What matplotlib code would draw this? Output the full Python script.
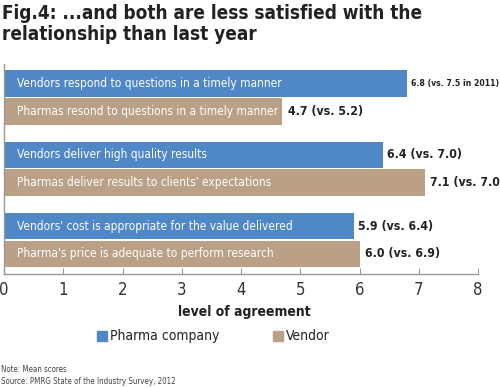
import matplotlib
matplotlib.use('Agg')
import matplotlib.pyplot as plt
from matplotlib.patches import Rectangle

# Data
groups = [0, 1, 2]
pharma_labels = [
    'Vendors respond to questions in a timely manner',
    'Vendors deliver high quality results',
    "Vendors' cost is appropriate for the value delivered",
]
pharma_values = [6.8, 6.4, 5.9]
pharma_notes = ['6.8 (vs. 7.5 in 2011)', '6.4 (vs. 7.0)', '5.9 (vs. 6.4)']

vendor_labels = [
    'Pharmas resond to questions in a timely manner',
    "Pharmas deliver results to clients' expectations",
    "Pharma's price is adequate to perform research",
]
vendor_values = [4.7, 7.1, 6.0]
vendor_notes = ['4.7 (vs. 5.2)', '7.1 (vs. 7.0)', '6.0 (vs. 6.9)']

xticks = [0, 1, 2, 3, 4, 5, 6, 7, 8]

blue = '#4F87C7'
tan = '#B9A086'
plt.rcParams['font.family'] = ['DejaVu Sans']
plt.rcParams['font.stretch'] = 'condensed'

W, H = 500, 388
fig = plt.figure(figsize=(W / 100, H / 100), dpi=100)

# axes placed in pixel coordinates
ax_l, ax_r, ax_t, ax_b = 4, 478, 64, 274
ax = fig.add_axes([ax_l / W, 1 - ax_b / H, (ax_r - ax_l) / W, (ax_b - ax_t) / H])

bh = 0.37
off = 0.195
ax.barh([g - off for g in groups], pharma_values, height=bh, color=blue)
ax.barh([g + off for g in groups], vendor_values, height=bh, color=tan)

for i, g in enumerate(groups):
    ax.text(0.22, g - off, pharma_labels[i], color='white', fontsize=8.6,
            va='center', ha='left')
    ax.text(0.22, g + off, vendor_labels[i], color='white', fontsize=8.6,
            va='center', ha='left')
    size = 6.2 if i == 0 else 8.8
    ax.text(pharma_values[i] + 0.07, g - off, pharma_notes[i], color='#222222',
            fontsize=size, fontweight='bold', va='center', ha='left')
    ax.text(vendor_values[i] + 0.09, g + off, vendor_notes[i], color='#222222',
            fontsize=8.8, fontweight='bold', va='center', ha='left')

ax.set_xlim(0, 8)
ax.set_ylim(2.476, -0.469)
ax.set_xticks(xticks)
ax.set_yticks([])
ax.tick_params(axis='x', direction='in', length=4, color='#999999',
               labelsize=12, labelcolor='#333333', pad=5)
for s in ['top', 'right']:
    ax.spines[s].set_visible(False)
for s in ['left', 'bottom']:
    ax.spines[s].set_color('#999999')
    ax.spines[s].set_linewidth(1)
ax.patch.set_visible(False)

# title
fig.text(2 / W, 1 - 4 / H, 'Fig.4: ...and both are less satisfied with the\nrelationship than last year',
         fontsize=13.6, fontweight='bold', color='#222222', va='top', ha='left',
         linespacing=1.15)

# x label
fig.text(244 / W, 1 - 312 / H, 'level of agreement', fontsize=10, fontweight='bold',
         color='#222222', ha='center', va='center')

# legend
for x0, c, lab in [(97, blue, 'Pharma company'), (273, tan, 'Vendor')]:
    fig.patches.append(Rectangle((x0 / W, 1 - 341 / H), 10 / W, 10 / H,
                                 transform=fig.transFigure, color=c))
    fig.text((x0 + 13) / W, 1 - 336 / H, lab, fontsize=10, color='#222222',
             ha='left', va='center')

# notes
fig.text(1 / W, 1 - 370 / H, 'Note: Mean scores', fontsize=5.7, color='#444444',
         ha='left', va='center')
fig.text(1 / W, 1 - 382 / H, 'Source: PMRG State of the Industry Survey, 2012',
         fontsize=5.7, color='#444444', ha='left', va='center')

fig.savefig('out.png', dpi=100)
